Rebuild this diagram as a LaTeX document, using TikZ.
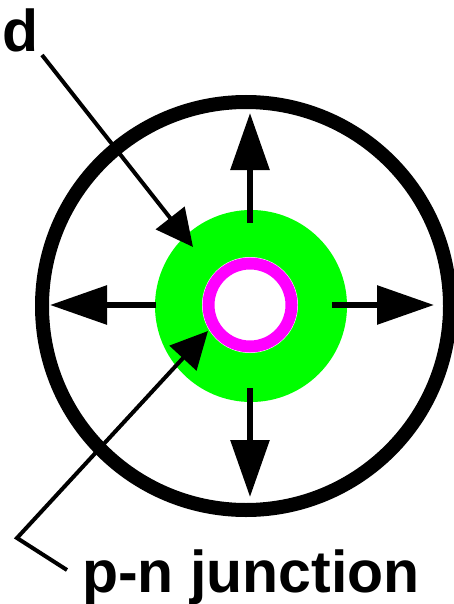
\documentclass[tikz,border=0pt]{standalone}
\usepackage{fontspec}
\setmainfont{Liberation Sans}
\usetikzlibrary{arrows.meta}

\definecolor{regiongreen}{RGB}{0,255,0}
\definecolor{junctionpink}{RGB}{255,0,255}

\tikzset{
  radial/.style={line width=6pt,-{Triangle[length=57pt,width=38pt]}},
  pointer/.style={line width=4pt,-{Triangle[length=37pt,width=36pt]}},
  lbl/.style={font=\fontsize{59}{61}\selectfont\bfseries,inner sep=0pt,anchor=base west}
}

\begin{document}
\begin{tikzpicture}[x=1pt,y=-1pt]
    \useasboundingbox (0,0) rectangle (454,604);

    % outer boundary
    \draw[line width=14pt] (246,306) circle (204);

    % depletion region and junction
    \fill[regiongreen] (251,306) circle (96);
    \fill[white] (250,305) circle (48);
    \draw[junctionpink,line width=12pt] (250,305) circle (41.5);

    % spreading arrows
    \coordinate (upA) at (250,223);
    \coordinate (upB) at (250,113);
    \coordinate (dnA) at (250,388);
    \coordinate (dnB) at (250,497);
    \coordinate (ltA) at (156,305);
    \coordinate (ltB) at (50,305);
    \coordinate (rtA) at (332,305);
    \coordinate (rtB) at (434,305);
    \draw[radial] (upA) -- (upB);
    \draw[radial] (dnA) -- (dnB);
    \draw[radial] (ltA) -- (ltB);
    \draw[radial] (rtA) -- (rtB);

    % labels
    \node[lbl] (dlabel) at (2,52) {d};
    \node[lbl] (pnlabel) at (82,592) {p-n junction};

    \coordinate (dstart) at (42,55);
    \coordinate (dtip) at (193,247);
    \draw[pointer] (dstart) -- (dtip);

    \coordinate (pnstart) at (67,570);
    \coordinate (pnbend) at (17,538);
    \coordinate (pntip) at (208,331);
    \draw[pointer] (pnstart) -- (pnbend) -- (pntip);
\end{tikzpicture}
\end{document}
